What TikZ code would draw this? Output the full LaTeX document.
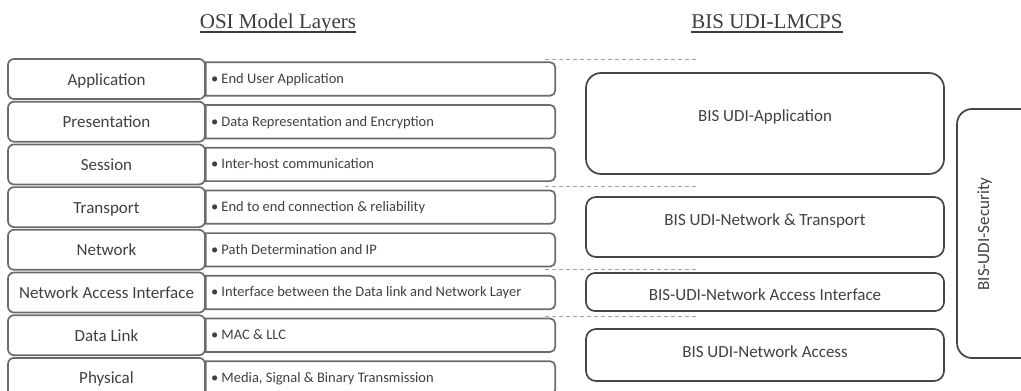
\documentclass[tikz,border=0pt]{standalone}
\usepackage{fontspec}
\setmainfont{Carlito}
\newfontfamily\serifhead{Liberation Serif}
\definecolor{layergray}{HTML}{6B6B6B}
\definecolor{blockgray}{HTML}{454545}
\definecolor{sepgray}{HTML}{A6A6A6}
\definecolor{txt}{HTML}{404040}
\definecolor{headtxt}{HTML}{3C3C3C}

% one OSI row: layer name box plus its description box (square left, rounded right)
% #1 layer node, #2 description node, #3 row centre y, #4 layer name, #5 description
\newcommand\osirow[5]{%
  \node[layer] (#1) at (106.5,#3) {#4};
  \node[descframe] (#2) at (380.5,#3) {};
  \draw[descline] (#2.north west) -- ([xshift=-5pt]#2.north east)
    arc[start angle=90,end angle=0,radius=5pt] -- ([yshift=5pt]#2.south east)
    arc[start angle=0,end angle=-90,radius=5pt] -- (#2.south west) -- cycle;
  \node[desctext] (#2t) at ([xshift=5pt,yshift=-4.3pt]#2.west) {•\ #5};
}

\begin{document}
\begin{tikzpicture}[x=1pt,y=-1pt,
  layer/.style={draw=layergray, line width=1.7pt, rounded corners=6pt,
    minimum width=197pt, minimum height=40pt, inner sep=0pt, text=txt,
    font=\fontsize{17}{20}\selectfont, text height=14pt, text depth=2pt},
  descframe/.style={minimum width=349pt, minimum height=33pt, inner sep=0pt},
  descline/.style={draw=layergray, line width=1.7pt},
  desctext/.style={anchor=base west, inner sep=0pt, text=txt,
    font=\fontsize{14.5}{17}\selectfont},
  block/.style={draw=blockgray, line width=1.7pt, rounded corners=10pt,
    minimum width=358pt, inner sep=0pt},
  blocktext/.style={anchor=base, inner sep=0pt, text=txt,
    font=\fontsize{17}{20}\selectfont},
  sep/.style={draw=sepgray, line width=0.9pt, dash pattern=on 4pt off 3pt},
  headline/.style={anchor=base, inner sep=0pt, text=headtxt,
    font=\serifhead\fontsize{21}{25}\selectfont},
  underline/.style={draw=headtxt, line width=1.6pt}
]
\useasboundingbox (0,0) rectangle (1021,391);

% column headings
\node[headline] (osiHead) at (278,28) {OSI Model Layers};
\draw[underline] ([yshift=-4pt]osiHead.base west) -- ([yshift=-4pt]osiHead.base east);
\node[headline] (bisHead) at (767,28) {BIS UDI-LMCPS};
\draw[underline] ([yshift=-4pt]bisHead.base west) -- ([yshift=-4pt]bisHead.base east);

% OSI layers
\osirow{lApp}{dApp}{79}{Application}{End User Application}
\osirow{lPres}{dPres}{121.7}{Presentation}{Data Representation and Encryption}
\osirow{lSess}{dSess}{164.4}{Session}{Inter-host communication}
\osirow{lTrans}{dTrans}{207.1}{Transport}{End to end connection \& reliability}
\osirow{lNet}{dNet}{249.8}{Network}{Path Determination and IP}
\osirow{lNai}{dNai}{292.5}{Network Access Interface}{Interface between the Data link and Network Layer}
\osirow{lDl}{dDl}{335.2}{Data Link}{MAC \& LLC}
\osirow{lPhy}{dPhy}{377.9}{Physical}{Media, Signal \& Binary Transmission}

% separators between the layer groups
\coordinate (s1a) at (545,59);  \coordinate (s1b) at (698,59);
\coordinate (s2a) at (545,186); \coordinate (s2b) at (698,186);
\coordinate (s3a) at (545,269); \coordinate (s3b) at (698,269);
\coordinate (s4a) at (545,316); \coordinate (s4b) at (698,316);
\draw[sep] (s1a) -- (s1b);
\draw[sep] (s2a) -- (s2b);
\draw[sep] (s3a) -- (s3b);
\draw[sep] (s4a) -- (s4b);

% BIS UDI-LMCPS layers
\node[block, rounded corners=15pt, minimum height=101pt] (bApp) at (765,123.5) {};
\node[blocktext] (bAppT) at (765,121) {BIS UDI-Application};
\node[block, minimum height=60pt] (bNt) at (765,227) {};
\node[blocktext] (bNtT) at (765,225.5) {BIS UDI-Network \& Transport};
\node[block, rounded corners=9pt, minimum height=38pt] (bNai) at (765,292) {};
\node[blocktext] (bNaiT) at (765,300.7) {BIS-UDI-Network Access Interface};
\node[block, minimum height=52pt] (bNa) at (765,355) {};
\node[blocktext] (bNaT) at (765,357.3) {BIS UDI-Network Access};

% security spans all layers
\node[block, rounded corners=15pt, minimum width=90pt, minimum height=249pt] (bSec) at (1002,233.5) {};
\node[blocktext, rotate=90] (bSecT) at (989,234) {BIS-UDI-Security};
\end{tikzpicture}
\end{document}
